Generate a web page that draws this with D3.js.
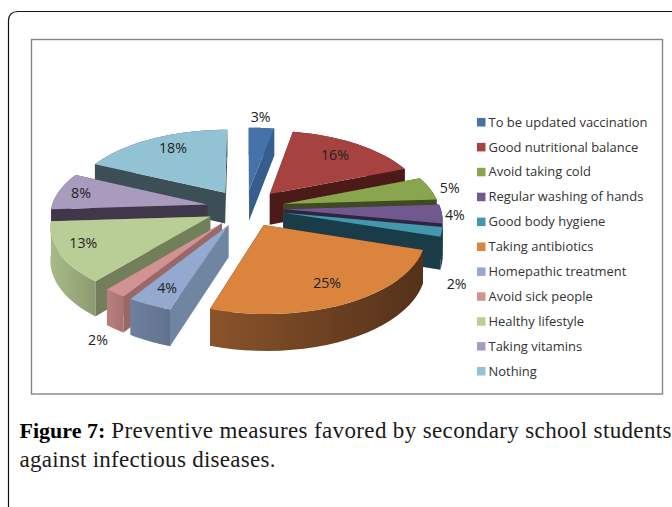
<!DOCTYPE html>
<html>
<head>
<meta charset="utf-8">
<script src="https://cdn.jsdelivr.net/npm/d3@7"></script>
<style>
  html, body { margin: 0; padding: 0; background: #fff; }
  svg { display: block; }
</style>
</head>
<body>
<svg id="figure" width="672" height="507"></svg>
<script>
// Survey answers, in percent
const categories = ["To be updated vaccination", "Good nutritional balance", "Avoid taking cold",
  "Regular washing of hands", "Good body hygiene", "Taking antibiotics", "Homepathic treatment",
  "Avoid sick people", "Healthy lifestyle", "Taking vitamins", "Nothing"];
const percents = [3, 16, 5, 4, 2, 25, 4, 2, 13, 8, 18];

// Slice shading: top face, cut faces, rim from left to right
const topColors = ["#4573a9", "#a64240", "#89a54e", "#71588f", "#4198af", "#db843d", "#93a9cf", "#d19392", "#b9cd96", "#a99bbd", "#92c3d4"];
const cutColors = ["#365d8b", "#4c1a19", "#3e4a22", "#30253f", "#1a3c48", "#5a3418", "#7085a2", "#996868", "#727f5a", "#40384a", "#3c4e56"];
const rimLeft = ["#3c6496", "#6e2b2a", "#55662f", "#3c2e50", "#1b3e4b", "#8a532a", "#6e809f", "#b97f7e", "#a8ba89", "#5a4f68", "#3c4e56"];
const rimRight = ["#365d8b", "#4c1a19", "#3e4a22", "#30253f", "#1a3c48", "#54311a", "#62728e", "#a87372", "#8c9b70", "#40384a", "#3c4e56"];

// Where each percent label sits on the pie plane: radius (1 = rim) and bearing in degrees
const labelRadius = [1.45, 1.01, 1.38, 1.33, 1.51, 1.02, 1.05, 1.66, 1.08, 1.10, 1.03];
const labelBearing = [4.5, 38.4, 78.5, 94, 127, 152.8, 205.1, 208, 245.7, 280.8, 330];

const captionBold = "Figure 7:";
const captionFirst = "Preventive measures favored by secondary school students";
const captionSecond = "against infectious diseases.";

const svg = d3.select("#figure");
const defs = svg.append("defs");

// Page frame, running off the right and bottom edges, and the chart's own border
svg.append("path")
  .attr("d", "M8.5,520 V21 Q8.5,11.5 18,11.5 H690")
  .attr("fill", "none").attr("stroke", "#111").attr("stroke-width", 1.2);
svg.append("rect")
  .attr("x", 31.5).attr("y", 39.5).attr("width", 631).attr("height", 354.5)
  .attr("fill", "#fff").attr("stroke", "#868686").attr("stroke-width", 1.4);

// Oblique view of the pie plane: u runs right, v runs toward the viewer
const cx = 245.5, cy = 208, radius = 156, squash = 74, perspective = 0.12, thickness = 31.5, explode = 0.25;
const project = (u, v, z = 0) => {
  const w = 1 / (1 - perspective * v);
  return [cx + radius * u * w, cy + squash * v * w + z * thickness * w];
};
const polar = (r, a) => [r * Math.sin(a), -r * Math.cos(a)];

const slices = d3.pie().sort(null).value(d => d)(percents).map((s, i) => {
  const mid = (s.startAngle + s.endAngle) / 2;
  const [ou, ov] = polar(explode, mid);
  const steps = d3.range(0, 25).map(k => s.startAngle + (s.endAngle - s.startAngle) * k / 24);
  const rim = steps.map(a => {
    const [u, v] = polar(1, a);
    return [ou + u, ov + v];
  });
  return { i, ou, ov, rim };
});

const line = d3.line();
const meanY = pts => d3.mean(pts, p => p[1]);
const pieLayer = svg.append("g");

// Farther slices first so nearer ones overlap them
slices.slice().sort((a, b) => a.ov - b.ov).forEach(s => {
  const top = s.rim.map(p => project(p[0], p[1]));
  const bottom = s.rim.map(p => project(p[0], p[1], 1));
  const apexTop = project(s.ou, s.ov);
  const apexBottom = project(s.ou, s.ov, 1);
  const n = top.length - 1;

  const gradientId = "rim" + s.i;
  const grad = defs.append("linearGradient").attr("id", gradientId)
    .attr("gradientUnits", "userSpaceOnUse")
    .attr("x1", d3.min(top, p => p[0])).attr("x2", d3.max(top, p => p[0]))
    .attr("y1", 0).attr("y2", 0);
  grad.append("stop").attr("offset", 0).attr("stop-color", rimLeft[s.i]);
  grad.append("stop").attr("offset", 1).attr("stop-color", rimRight[s.i]);

  const faces = [
    { pts: [apexTop, top[0], bottom[0], apexBottom], fill: cutColors[s.i] },
    { pts: [apexTop, top[n], bottom[n], apexBottom], fill: cutColors[s.i] },
    { pts: top.concat(bottom.slice().reverse()), fill: `url(#${gradientId})` }
  ];
  faces.sort((a, b) => meanY(a.pts) - meanY(b.pts)).forEach(f => {
    pieLayer.append("path").attr("d", line(f.pts) + "Z").attr("fill", f.fill);
  });
  pieLayer.append("path").attr("d", line([apexTop, ...top]) + "Z").attr("fill", topColors[s.i]);
});

// Percent labels
svg.append("g").selectAll("text").data(percents).join("text")
  .attr("transform", (d, i) => {
    const [u, v] = polar(labelRadius[i], labelBearing[i] * Math.PI / 180);
    const [x, y] = project(u, v);
    return `translate(${x},${y})`;
  })
  .attr("text-anchor", "middle").attr("dy", "0.36em")
  .attr("font-family", "'Open Sans', sans-serif").attr("font-size", 14.2)
  .attr("fill", "#222")
  .text(d => d + "%");

// Legend
const legendY = d3.scalePoint().domain(categories).range([122, 371]);
const legend = svg.append("g").selectAll("g").data(categories).join("g")
  .attr("transform", d => `translate(477,${legendY(d)})`);
legend.append("rect").attr("x", 0).attr("y", -4).attr("width", 8.5).attr("height", 8.5)
  .attr("fill", (d, i) => topColors[i]);
legend.append("text").attr("x", 11.5).attr("dy", "0.36em")
  .attr("font-family", "'Open Sans', sans-serif").attr("font-size", 12.95).attr("fill", "#333")
  .text(d => d);

// Caption
const caption = svg.append("g")
  .attr("font-family", "'Liberation Serif', serif").attr("font-size", 23).attr("fill", "#1a1a1a");
const firstLine = caption.append("text").attr("x", 19.5).attr("y", 438);
firstLine.append("tspan").attr("font-weight", "bold").attr("fill", "#000").attr("font-size", 22).text(captionBold);
firstLine.append("tspan").attr("letter-spacing", 0.36).text(" " + captionFirst);
caption.append("text").attr("x", 19.5).attr("y", 467).attr("letter-spacing", 0.28).text(captionSecond);
</script>
</body>
</html>
